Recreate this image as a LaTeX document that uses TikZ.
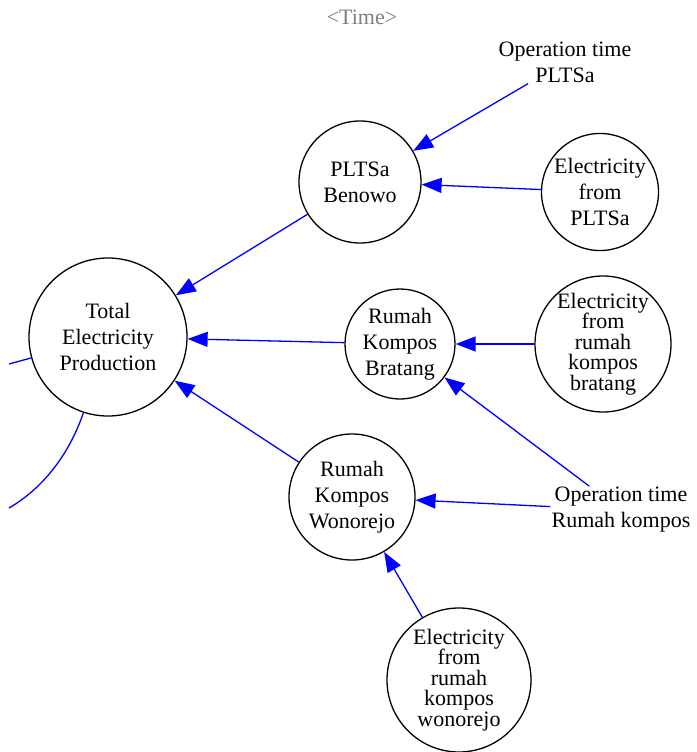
\documentclass[tikz,border=0pt]{standalone}
\usepackage{fontspec}
\setmainfont{Liberation Serif}
\usetikzlibrary{arrows.meta}
\tikzset{
  every node/.style={font=\fontsize{22}{26}\selectfont, align=center},
  var/.style={circle, draw=black, line width=1.3pt, inner sep=-12pt},
  tight/.style={font=\fontsize{22}{20.5}\selectfont},
  lbl/.style={inner sep=1pt},
  link/.style={draw=blue, line width=1.3pt, -{Triangle[length=20pt,width=15pt]}},
  tail/.style={draw=blue, line width=1.3pt},
}
\begin{document}
\begin{tikzpicture}[x=1pt,y=-1pt]
\useasboundingbox (0,0) rectangle (696,752);
\node[text=gray] (time) at (362,17) {<Time>};
\node[var, minimum size=158pt] (total) at (108,337) {Total\\Electricity\\Production};
\node[var, minimum size=122pt] (pltsa) at (360,182) {PLTSa\\Benowo};
\node[var, minimum size=117pt] (epltsa) at (600,192) {Electricity\\from\\PLTSa};
\node[var, minimum size=110pt] (bratang) at (400,344) {Rumah\\Kompos\\Bratang};
\node[var, tight, minimum size=136pt] (ebratang) at (603,344) {Electricity\\from\\rumah\\kompos\\bratang};
\node[var, minimum size=126pt] (wonorejo) at (352,497) {Rumah\\Kompos\\Wonorejo};
\node[var, tight, minimum size=144pt] (ewonorejo) at (459,680) {Electricity\\from\\rumah\\kompos\\wonorejo};
\node[lbl] (oppltsa) at (565,62) {Operation time\\PLTSa};
\node[lbl] (oprk) at (621,510) {Operation time\\Rumah kompos};
\coordinate (leftA) at (9,364);
\coordinate (leftB) at (9,508);

\draw[link] (oppltsa) -- (pltsa);
\draw[link] (epltsa) -- (pltsa);
\draw[link] (pltsa) -- (total);
\draw[link] (bratang) -- (total);
\draw[link] (ebratang) -- (bratang);
\draw[link] (oprk) -- (bratang);
\draw[link] (oprk) -- (wonorejo);
\draw[link] (wonorejo) -- (total);
\draw[link] (ewonorejo) -- (wonorejo);
\draw[tail] (total) -- (leftA);
\draw[tail] (total.-108) .. controls (70,452) and (45,487) .. (leftB);
\end{tikzpicture}
\end{document}
